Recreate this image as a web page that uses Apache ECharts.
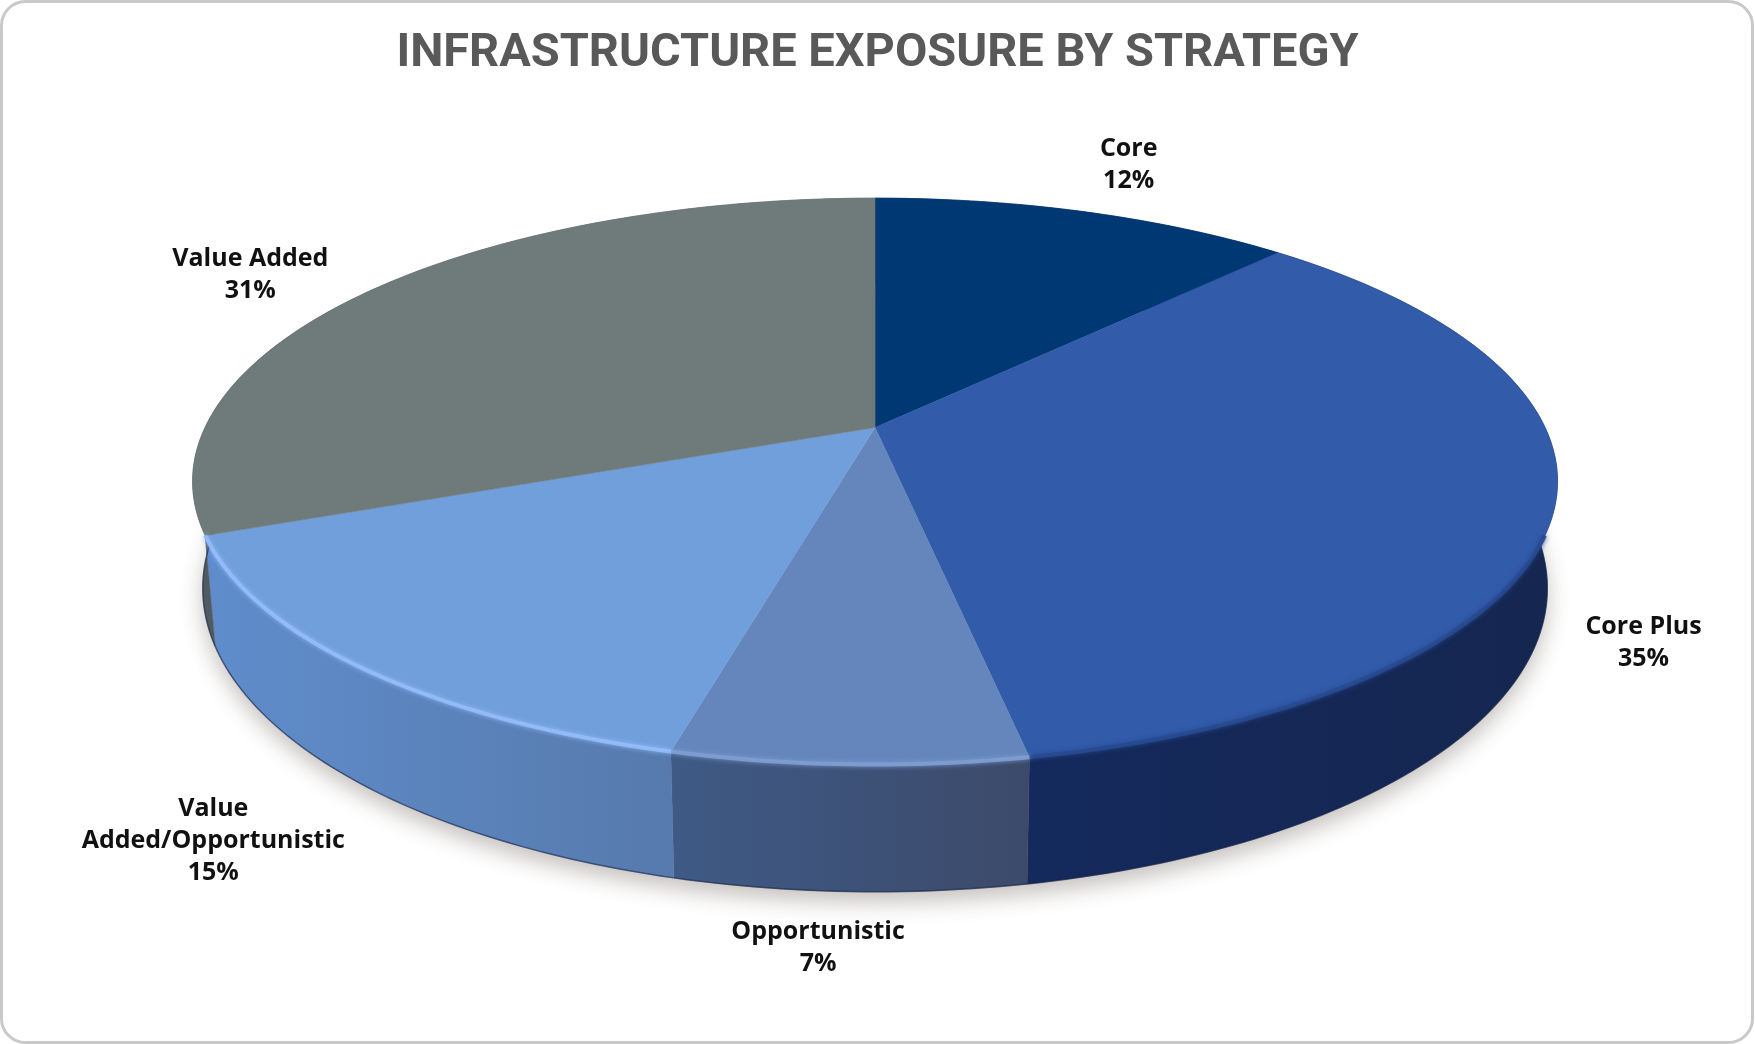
<!DOCTYPE html>
<html>
<head>
<meta charset="utf-8">
<title>Infrastructure Exposure by Strategy</title>
<script src="https://cdn.jsdelivr.net/npm/echarts@6/dist/echarts.min.js"></script>
<style>
  html, body { margin: 0; padding: 0; background: #ffffff; }
  #chart { width: 1755px; height: 1044px; }
</style>
</head>
<body>
<div id="chart"></div>
<script>
const chartTitle = 'INFRASTRUCTURE EXPOSURE BY STRATEGY';
const categories = ['Core', 'Core Plus', 'Opportunistic', 'Value Added/Opportunistic', 'Value Added'];
const shares = [12, 35, 7, 15, 31];

const topColors = ['#003874', '#325BAA', '#6586BC', '#709FDB', '#6F7A7A'];
const wallColorsLeft = ['#0d2a5c', '#14295c', '#3F5A86', '#5F8DCB', '#4f5b60'];
const wallColorsRight = ['#0d2a5c', '#152650', '#3C4A6A', '#577AAD', '#5a666b'];
const rimColors = [null, '#27498f', '#7e9fd2', '#93bdf8', null];

// Disc projection: a flat circle seen in perspective, plus the wall depth below it.
const disc = { cx: 0.4986, cy: 0.4095, a: 0.3818, b: 0.2615, k: 0.19, depth: 0.0987, baseScale: 0.985 };
// Label centre, measured from the rim point at each slice's middle angle.
const labelShift = [[44, -47], [89, 135], [-31, 184], [-145, 175], [-124, -14]];

const total = shares.reduce((s, v) => s + v, 0);
const startShare = shares.map((_, i) => shares.slice(0, i).reduce((s, v) => s + v, 0));

function project(api, angle, r, lower) {
  const w = api.getWidth(), h = api.getHeight();
  const u = r * Math.sin(angle), v = r * Math.cos(angle);
  const den = 1 + disc.k * v;
  const x = disc.a * w * u / den * (lower ? disc.baseScale : 1);
  const y = disc.b * h * v / den;
  // Nearer parts of the wall look taller, so its depth follows the same perspective.
  return [disc.cx * w + x, disc.cy * h - y + (lower ? disc.depth * h / den : 0)];
}

function arc(api, from, to, lower) {
  const steps = Math.max(8, Math.ceil((to - from) * 180 / Math.PI));
  const pts = [];
  for (let i = 0; i <= steps; i++) pts.push(project(api, from + (to - from) * i / steps, 1, lower));
  return pts;
}

function renderSlice(params, api) {
  const i = params.dataIndex;
  const value = api.value(1);
  const from = startShare[i] / total * Math.PI * 2;
  const to = from + value / total * Math.PI * 2;
  const topArc = arc(api, from, to, false);
  const lowArc = arc(api, from, to, true);
  const apex = project(api, 0, 0, false);
  const lowApex = project(api, 0, 0, true);
  const children = [];

  // Soft ground shadow under the lower rim.
  children.push({
    type: 'polygon', z2: 1, silent: true,
    shape: { points: [lowApex].concat(lowArc) },
    style: { fill: '#ffffff', shadowBlur: 22, shadowOffsetY: 10, shadowColor: 'rgba(70,60,50,0.32)' }
  });
  // Outer wall of the slice.
  children.push({
    type: 'polygon', z2: 2, silent: true,
    shape: { points: topArc.concat(lowArc.slice().reverse()) },
    style: {
      fill: new echarts.graphic.LinearGradient(0, 0, 1, 0, [
        { offset: 0, color: wallColorsLeft[i] },
        { offset: 1, color: wallColorsRight[i] }
      ]),
      stroke: wallColorsRight[i], lineWidth: 0.5
    }
  });
  // Dark line where the wall meets the ground.
  children.push({
    type: 'polyline', z2: 3, silent: true,
    shape: { points: lowArc },
    style: { fill: null, stroke: 'rgba(20,35,70,0.6)', lineWidth: 1.5 }
  });
  // Top face.
  children.push({
    type: 'polygon', z2: 4, silent: true,
    shape: { points: [apex].concat(topArc) },
    style: { fill: topColors[i], stroke: topColors[i], lineWidth: 0.5 }
  });
  // Light bevel along the part of the top edge that faces the viewer.
  if (rimColors[i]) {
    const frontFrom = Math.max(from, Math.PI * 0.62);
    const frontTo = Math.min(to, Math.PI * 1.42);
    children.push({
      type: 'polyline', z2: 5, silent: true,
      shape: { points: arc(api, frontFrom, frontTo, false) },
      style: { fill: null, stroke: rimColors[i], lineWidth: 4, opacity: 0.9, shadowBlur: 5, shadowColor: rimColors[i] }
    });
  }
  // Category and share label.
  const rim = project(api, (from + to) / 2, 1, false);
  children.push({
    type: 'text', z2: 10, silent: true,
    style: {
      x: rim[0] + labelShift[i][0],
      y: rim[1] + labelShift[i][1],
      text: categories[i].replace(' Added/', '\nAdded/') + '\n' + value + '%',
      align: 'center', verticalAlign: 'middle',
      fill: '#111111', font: 'bold 25px "Open Sans", sans-serif', lineHeight: 32
    }
  });
  return { type: 'group', children };
}

const chart = echarts.init(document.getElementById('chart'), null, { renderer: 'canvas' });
chart.setOption({
  animation: false,
  backgroundColor: '#ffffff',
  title: {
    text: chartTitle,
    left: 'center', top: 26,
    textStyle: { color: '#595959', fontFamily: 'Roboto', fontWeight: 'bold', fontSize: 47 }
  },
  graphic: [{
    type: 'rect', z: -10, silent: true,
    shape: { x: 1.5, y: 1.5, width: 1751, height: 1041, r: 24 },
    style: { fill: '#ffffff', stroke: '#c9c9c9', lineWidth: 3 }
  }],
  series: [{
    type: 'custom',
    coordinateSystem: 'none',
    renderItem: renderSlice,
    encode: { itemName: 0, value: 1 },
    data: categories.map((c, i) => [c, shares[i]])
  }]
});
</script>
</body>
</html>
